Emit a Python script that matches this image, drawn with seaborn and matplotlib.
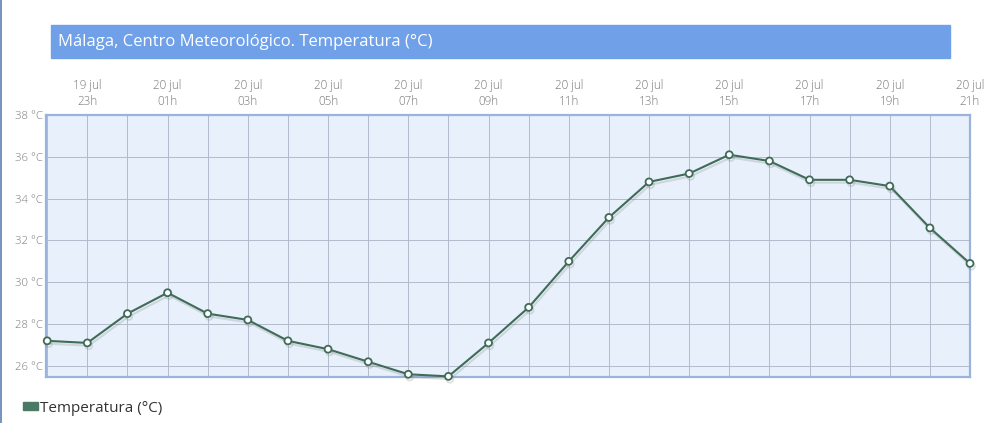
import matplotlib
matplotlib.use("Agg")
import matplotlib.pyplot as plt
import matplotlib.patheffects as pe
from matplotlib.patches import Rectangle, Patch
import seaborn as sns
import pandas as pd

# hourly readings, 19 jul 22h -> 20 jul 21h
hours = ["22h", "23h", "00h", "01h", "02h", "03h", "04h", "05h", "06h", "07h",
         "08h", "09h", "10h", "11h", "12h", "13h", "14h", "15h", "16h", "17h",
         "18h", "19h", "20h", "21h"]
days = ["19 jul", "19 jul"] + ["20 jul"] * 22
temps = [27.2, 27.1, 28.5, 29.5, 28.5, 28.2, 27.2, 26.8, 26.2, 25.6,
         25.5, 27.1, 28.8, 31.0, 33.1, 34.8, 35.2, 36.1, 35.8, 34.9,
         34.9, 34.6, 32.6, 30.9]
yticks = [26, 28, 30, 32, 34, 36, 38]

df = pd.DataFrame({"i": range(len(temps)), "temp": temps})

sns.set_theme(style="white")
plt.rcParams["font.family"] = ["Open Sans", "DejaVu Sans"]

W, H = 995, 423
fig = plt.figure(figsize=(W / 100, H / 100), dpi=100)
ax = fig.add_axes([46 / W, 1 - 377 / H, (970 - 46) / W, (377 - 115) / H])

line_col = "#3f6b58"
sns.lineplot(data=df, x="i", y="temp", ax=ax, color=line_col, linewidth=1.5,
             marker="o", markersize=5, markerfacecolor="white",
             markeredgecolor=line_col, markeredgewidth=1.3, clip_on=False, zorder=5)
ax.lines[0].set_path_effects([
    pe.SimpleLineShadow(offset=(1, -2), shadow_color="#7a8a80", alpha=0.25),
    pe.Normal()])

ax.set_facecolor("#e8f0fb")
ax.set_xlim(-0.03, 23)
ax.set_ylim(25.47, 38)

tick_col = "#777777"
ax.set_xticks(range(len(temps)), minor=True)
ax.set_xticks(range(1, len(temps), 2))
ax.set_xticklabels([f"{days[i]}\n{hours[i]}" for i in range(1, len(temps), 2)],
                   color=tick_col, fontsize=8.4, linespacing=1.3, fontweight="light")
ax.xaxis.tick_top()
ax.set_yticks(yticks)
ax.set_yticklabels([f"{t} °C" for t in yticks], color=tick_col, fontsize=8.2,
                   fontweight="light")
ax.tick_params(axis="both", which="both", length=0, pad=2)
ax.tick_params(axis="x", pad=5)
ax.grid(True, which="both", color="#b3bccc", linewidth=0.7)
ax.set_axisbelow(True)
ax.set_xlabel("")
ax.set_ylabel("")
for s in ax.spines.values():
    s.set_color("#9ab3dd")
    s.set_linewidth(1.6)

# title bar
fig.patches.append(Rectangle((51 / W, 1 - 58 / H), (950 - 51) / W, 33 / H,
                             transform=fig.transFigure, color="#6fa0e8", zorder=0))
fig.text(58 / W, 1 - 42 / H, "Málaga, Centro Meteorológico. Temperatura (°C)",
         color="white", fontsize=12, va="center", ha="left")

# page frame line on the left
fig.add_artist(plt.Line2D([1.5 / W, 1.5 / W], [0, 1], transform=fig.transFigure,
                          color="#5b80b4", linewidth=1.2))

fig.legend(handles=[Patch(color="#4a7a66", label="Temperatura (°C)")],
           loc="center left", bbox_to_anchor=(9 / W, 1 - 408 / H),
           frameon=False, fontsize=11, handlelength=1.0, handleheight=0.45,
           handletextpad=0.1, labelcolor="#333333")

fig.savefig("out.png", dpi=100, facecolor="white")
